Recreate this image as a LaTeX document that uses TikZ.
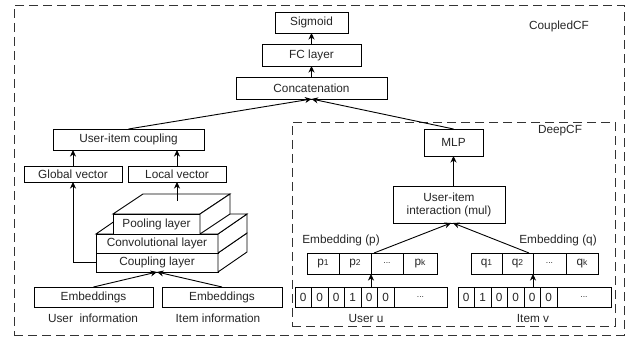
\documentclass[tikz,border=0pt]{standalone}
\usepackage{fontspec}
\setmainfont{Liberation Sans}
\usetikzlibrary{arrows.meta}
\begin{document}
\begin{tikzpicture}[x=1pt,y=-1pt,
  every node/.style={font=\fontsize{11.8}{13}\selectfont, text=black!85},
  box/.style={draw, line width=0.9pt, fill=white, inner sep=0pt, outer sep=0pt},
  cell/.style={box, minimum height=20pt},
  face/.style={draw, line width=0.9pt, fill=white, line join=miter},
  frame/.style={draw=black!80, line width=0.9pt, dash pattern=on 9pt off 5pt, inner sep=0pt, outer sep=0pt},
  arr/.style={line width=0.9pt, -{Stealth[length=6.5pt,width=6pt,inset=2pt]}},
  ln/.style={line width=0.9pt}]
\useasboundingbox (0,0) rectangle (639,344);
\newcommand{\sbs}[1]{{\fontsize{8.5}{9}\selectfont #1}}
% frames
\node[frame, minimum width=610pt, minimum height=330pt] (outer) at (319,170) {};
\node[frame, minimum width=323pt, minimum height=204pt] (deep) at (453.5,224) {};
\node (lcoupled) at (559,26) {CoupledCF};
\node (ldeep) at (560,131) {DeepCF};
% top column
\node[box, minimum width=73pt, minimum height=21pt] (sig) at (311.5,22.5) {Sigmoid};
\node[box, minimum width=99pt, minimum height=22pt] (fc) at (311.5,55) {FC layer};
\node[box, minimum width=151pt, minimum height=22pt] (cat) at (311.5,88) {Concatenation};
\draw[arr] (fc.north) -- (sig.south);
\draw[arr] (cat.north) -- (fc.south);
% CoupledCF left
\node[box, minimum width=151pt, minimum height=21pt] (uic) at (128.5,139.5) {User-item coupling};
\node[box, minimum width=98pt, minimum height=16pt] (gv) at (73,174) {Global vector};
\node[box, minimum width=98pt, minimum height=16pt] (lv) at (177,174) {Local vector};
\draw[arr] (gv.north) -- (gv.north |- uic.south);
\draw[arr] (lv.north) -- (lv.north |- uic.south);
% 3D stack
\node[box, minimum width=122pt, minimum height=19pt] (coup) at (157,262.5) {Coupling layer};
\draw[face] (coup.south east) -- (coup.north east) -- ++(29,-20) -- ++(0,19) -- cycle;
\node[box, minimum width=122pt, minimum height=19pt] (conv) at (157,243.5) {Convolutional layer};
\draw[face] (conv.south east) -- (conv.north east) -- ++(29,-20) -- ++(0,19) -- cycle;
\draw[face] (conv.north west) -- ++(29,-20) -- ++(122,0) -- (conv.north east) -- cycle;
\node[box, minimum width=87pt, minimum height=20pt] (pool) at (156.5,224) {Pooling layer};
\draw[face] (pool.north west) -- ++(30,-20) -- ++(87,0) -- (pool.north east) -- cycle;
\draw[face] (pool.south east) -- (pool.north east) -- ++(30,-20) -- ++(0,20) -- cycle;
\coordinate (ptop) at (177,201);
\draw[arr] (ptop) -- (lv.south);
\draw[arr] (coup.west) -| (gv.south);
% embeddings
\node[box, minimum width=119pt, minimum height=20pt] (emb1) at (93.5,297) {Embeddings};
\node[box, minimum width=120pt, minimum height=20pt] (emb2) at (222,297) {Embeddings};
\node (uinfo) at (93,318) {User\ \ information};
\node (iinfo) at (218,318) {Item information};
\draw[arr] (emb1.north) -- (coup.south);
\draw[arr] (emb2.north) -- (coup.south);
\draw[arr] (uic.north) -- (cat.south);
% DeepCF
\node[box, minimum width=59pt, minimum height=27pt] (mlp) at (453.5,142.5) {MLP};
\node[box, minimum width=112pt, minimum height=37pt, align=center] (inter) at (449,204.5) {User-item\\interaction (mul)};
\draw[arr] (mlp.north) -- (cat.south);
\draw[arr] (inter.north -| mlp.south) -- (mlp.south);
\node (lp) at (341,240) {Embedding (p)};
\node (lq) at (558,240) {Embedding (q)};
% p cells
\node[cell, minimum width=32pt, minimum height=21pt] (p1) at (323,263.5) {p\sbs{1}};
\node[cell, minimum width=32pt, minimum height=21pt] (p2) at (355,263.5) {p\sbs{2}};
\node[cell, minimum width=32pt, minimum height=21pt] (p3) at (387,263.5) {\sbs{...}};
\node[cell, minimum width=34pt, minimum height=21pt] (pk) at (420,263.5) {p\sbs{k}};
% q cells
\node[cell, minimum width=31pt, minimum height=21pt] (q1) at (486.5,263.5) {q\sbs{1}};
\node[cell, minimum width=31pt, minimum height=21pt] (q2) at (517.5,263.5) {q\sbs{2}};
\node[cell, minimum width=33pt, minimum height=21pt] (q3) at (549.5,263.5) {\sbs{...}};
\node[cell, minimum width=32pt, minimum height=21pt] (qk) at (582,263.5) {q\sbs{k}};
% user one-hot
\foreach \v [count=\i from 0] in {0,0,0,1,0,0} {
  \node[cell, minimum width=16.5pt] (u\i) at (303.25+16.5*\i,297) {\v};
}
\node[cell, minimum width=53pt] (u6) at (420.5,297) {\sbs{...}};
% item one-hot
\foreach \v [count=\i from 0] in {0,1,0,0,0,0} {
  \node[cell, minimum width=16.5pt] (v\i) at (466.25+16.5*\i,297) {\v};
}
\node[cell, minimum width=54pt] (v6) at (584,297) {\sbs{...}};
\node (useru) at (366,318) {User u};
\node (itemv) at (533,318) {Item v};
\draw[arr] (p2.south east |- u4.north) -- (p2.south east);
\draw[arr] (q2.south east |- v4.north) -- (q2.south east);
\draw[arr] ([xshift=3pt]p3.north west) -- ([xshift=2pt]inter.south);
\draw[arr] ([xshift=-4pt]q2.north east) -- ([xshift=4pt]inter.south);
\end{tikzpicture}
\end{document}
